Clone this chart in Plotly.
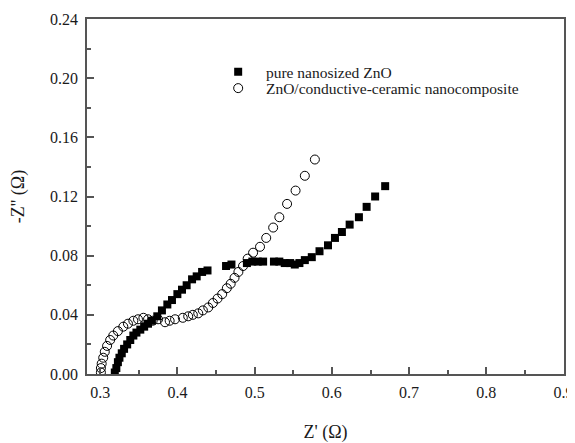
import plotly.graph_objects as go

# pure nanosized ZnO (filled squares)
zno_x = [0.319,0.321,0.323,0.325,0.328,0.331,0.335,0.339,0.343,0.347,0.352,0.357,0.362,0.367,0.374,0.380,0.387,0.393,0.400,0.406,0.412,0.419,0.425,0.432,0.439,
         0.463,0.470,0.490,0.497,0.504,0.511,0.525,0.532,0.539,0.546,0.552,0.558,
         0.565,0.574,0.584,0.595,0.604,0.613,0.623,0.635,0.645,0.656,0.669]
zno_y = [0.001,0.004,0.008,0.011,0.014,0.017,0.020,0.023,0.026,0.028,0.030,0.032,0.034,0.036,0.039,0.043,0.047,0.050,0.054,0.057,0.060,0.064,0.066,0.069,0.070,
         0.073,0.074,0.075,0.076,0.076,0.076,0.076,0.076,0.075,0.075,0.074,0.075,
         0.077,0.079,0.083,0.087,0.092,0.096,0.101,0.106,0.113,0.120,0.127]

# ZnO/conductive-ceramic nanocomposite (open circles)
comp_x = [0.301,0.301,0.302,0.304,0.306,0.309,0.313,0.317,0.323,0.330,0.336,0.343,0.349,0.356,0.362,0.368,0.375,0.384,0.390,0.397,0.407,0.414,0.420,0.427,0.433,0.440,0.446,
          0.452,0.458,0.464,0.469,0.474,0.479,0.485,0.491,0.498,0.507,0.515,0.524,0.532,0.542,0.553,0.565,0.578]
comp_y = [0.001,0.004,0.007,0.011,0.015,0.019,0.023,0.026,0.029,0.032,0.034,0.036,0.037,0.038,0.037,0.036,0.037,0.035,0.036,0.037,0.038,0.039,0.040,0.041,0.043,0.045,0.048,
          0.051,0.054,0.058,0.061,0.065,0.069,0.073,0.078,0.082,0.086,0.092,0.099,0.106,0.115,0.124,0.134,0.145]

FONT = "Liberation Serif"
AX = "#555555"
TXT = "#1a1a1a"
PAD = "\u00a0\u00a0"

fig = go.Figure()
fig.add_trace(go.Scatter(x=zno_x, y=zno_y, mode="markers", name=PAD + "pure nanosized ZnO",
                         legend="legend", showlegend=True,
                         marker=dict(symbol="square", size=8, color="black", line=dict(width=0))))
fig.add_trace(go.Scatter(x=comp_x, y=comp_y, mode="markers", name=PAD + "ZnO/conductive-ceramic nanocomposite",
                         legend="legend2", showlegend=True,
                         marker=dict(symbol="circle-open", size=9, color="black", line=dict(width=1))))

axis_common = dict(showgrid=False, zeroline=False, showline=True, linecolor=AX, linewidth=1.5,
                   mirror=True, ticks="inside", ticklen=7, tickwidth=1.5, tickcolor=AX,
                   automargin=False,
                   tickfont=dict(family=FONT, size=16, color=TXT))

fig.update_xaxes(range=[0.283, 0.9005], dtick=0.1, tick0=0.3, tickformat=".1f",
                 ticklabelstandoff=3,
                 minor=dict(ticks="inside", ticklen=4, tickwidth=1.5, tickcolor=AX, dtick=0.05, tick0=0.3),
                 title=dict(text="Z' (Ω)", font=dict(family=FONT, size=18, color=TXT), standoff=26),
                 **axis_common)
fig.update_yaxes(range=[0, 0.24], dtick=0.04, tick0=0, tickformat=".2f",
                 ticklabelstandoff=4,
                 minor=dict(ticks="inside", ticklen=4, tickwidth=1.5, tickcolor=AX, dtick=0.02, tick0=0),
                 title=dict(text="-Z'' (Ω)", font=dict(family=FONT, size=18, color=TXT), standoff=22),
                 **axis_common)

leg_common = dict(xanchor="left", yanchor="top", bgcolor="rgba(0,0,0,0)",
                  font=dict(family=FONT, size=15.5, color=TXT), itemwidth=30, visible=True)

fig.update_layout(width=567, height=435, margin=dict(l=79, r=11, t=11, b=69, autoexpand=False),
                  plot_bgcolor="white", paper_bgcolor="white", showlegend=True,
                  legend=dict(x=0.275, y=0.898, **leg_common),
                  legend2=dict(x=0.275, y=0.852, **leg_common),
                  font=dict(family=FONT))

fig.write_html("out.html")
